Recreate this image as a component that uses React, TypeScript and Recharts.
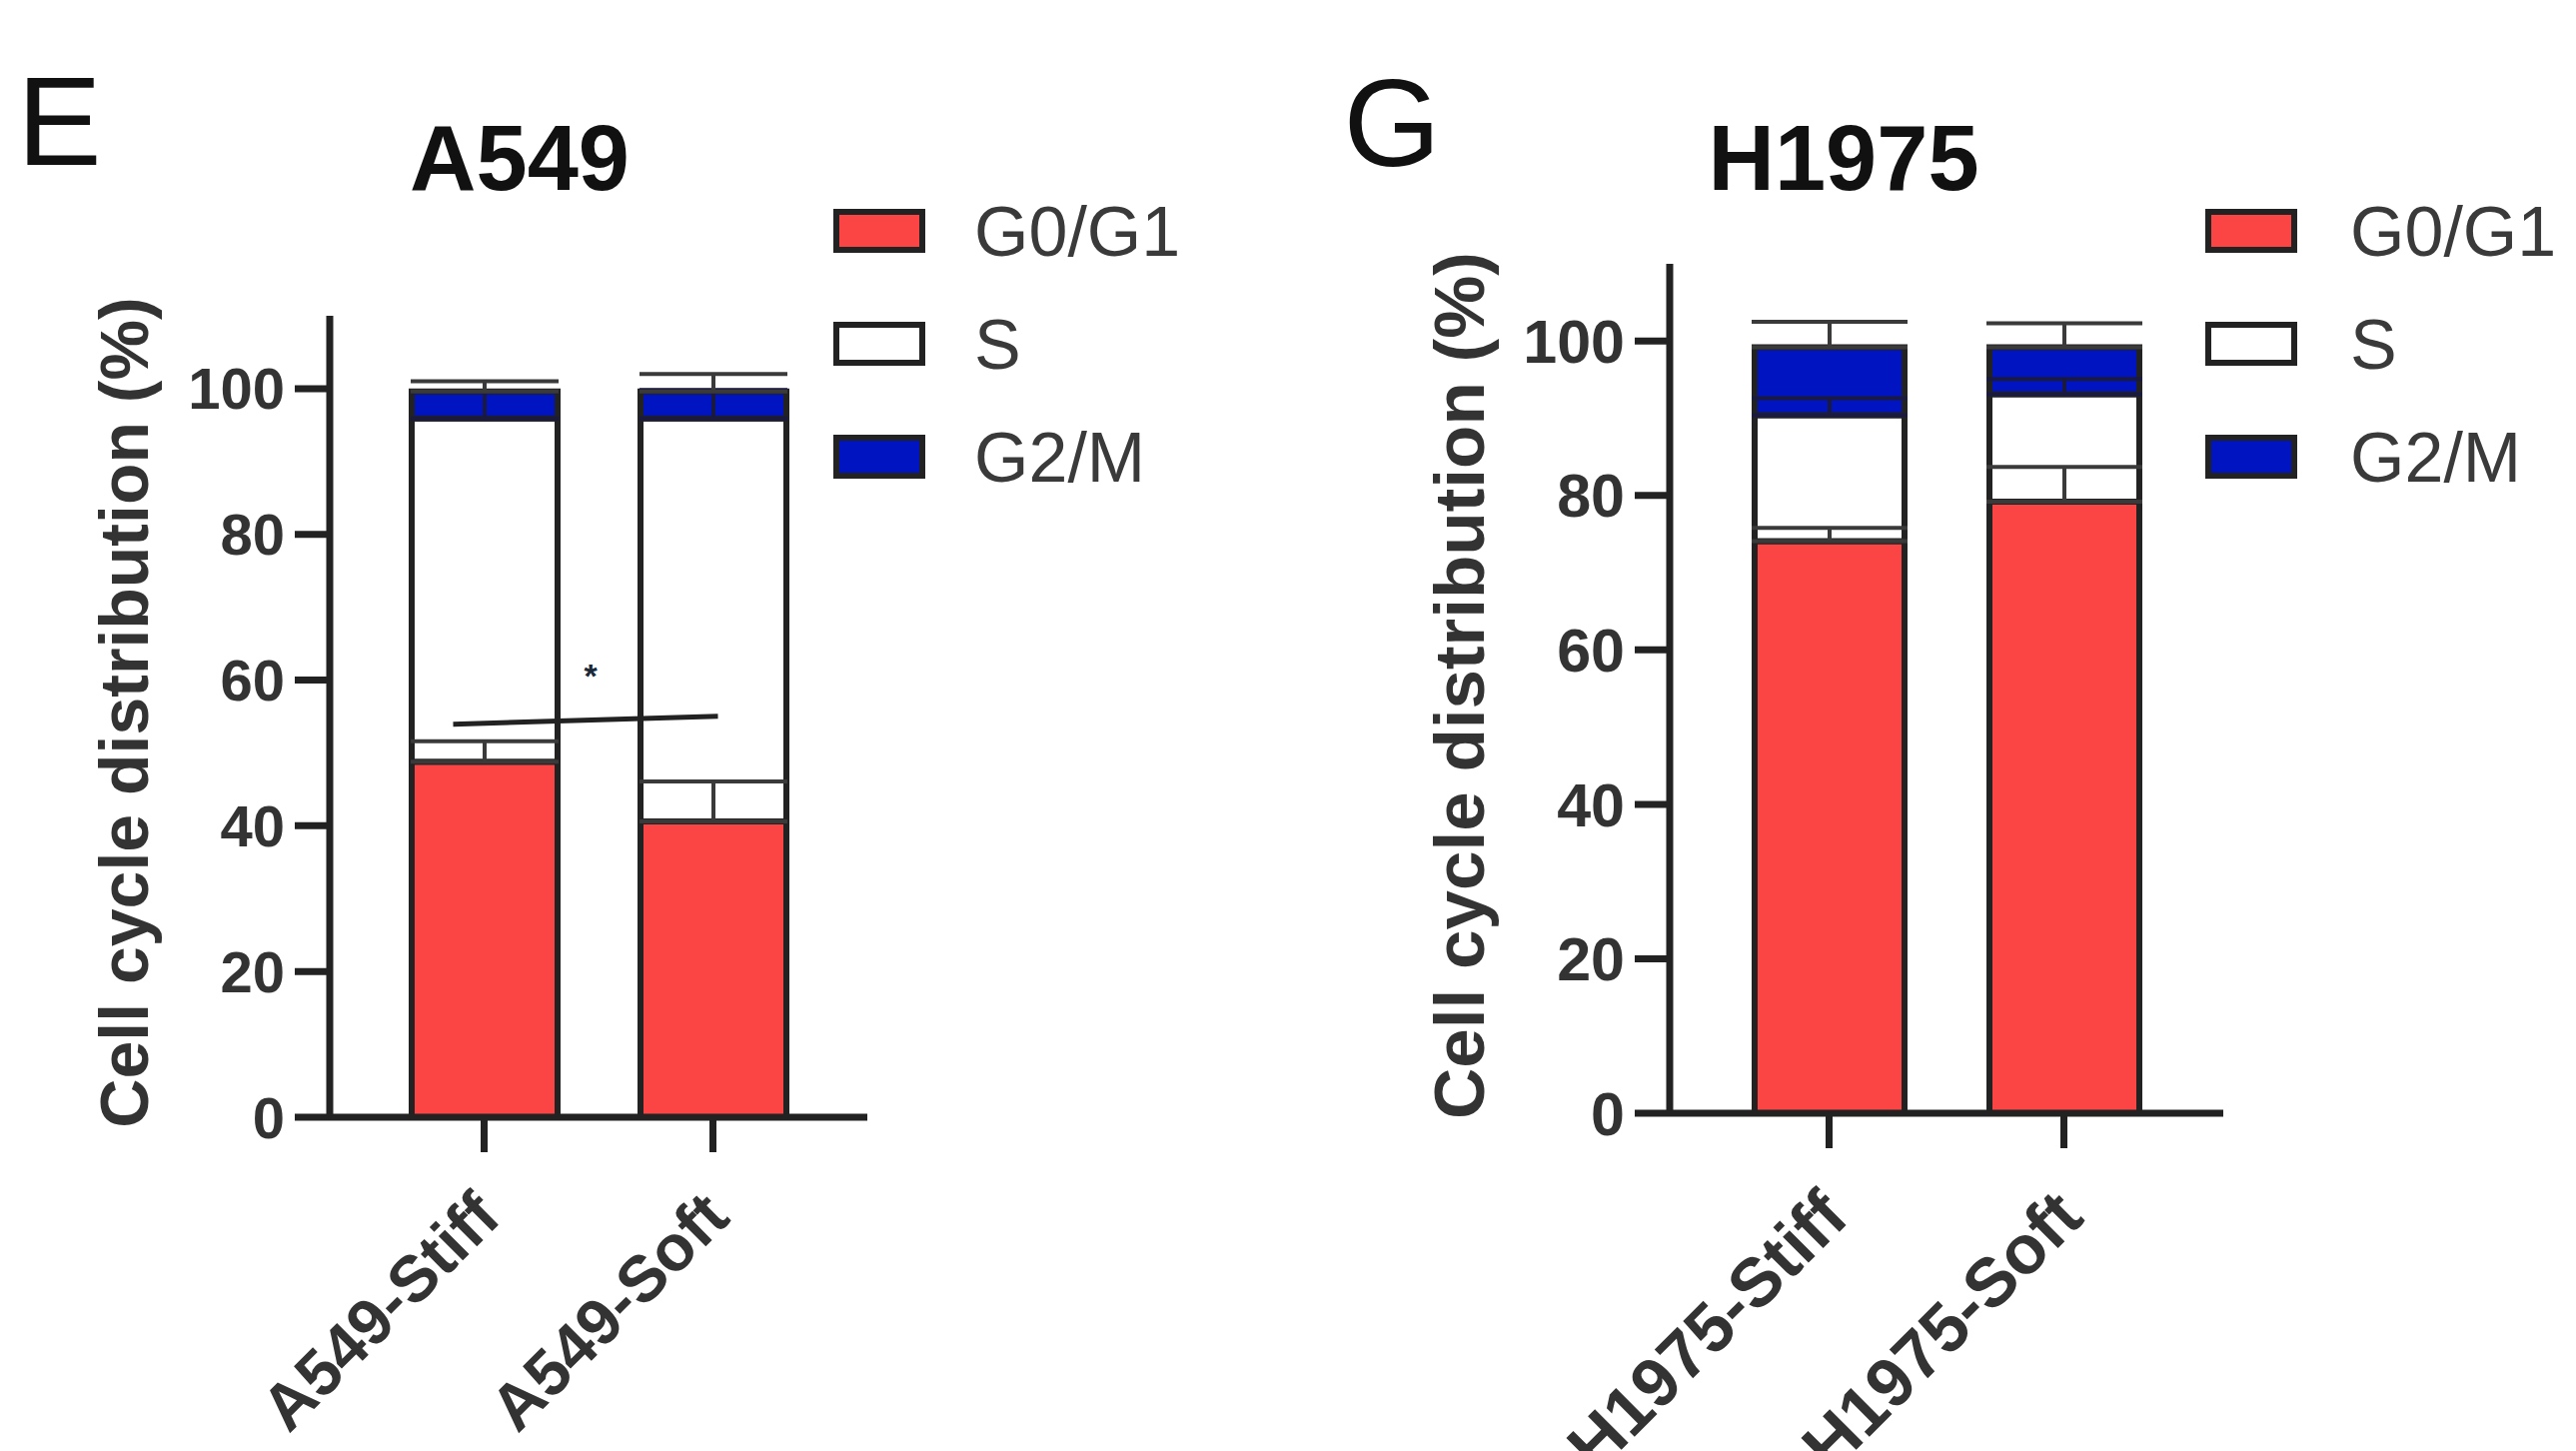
import React from 'react';
import { BarChart, Bar, XAxis, YAxis, ErrorBar, ReferenceLine } from 'recharts';

const FONT = '"Liberation Sans", Arial, Helvetica, sans-serif';
const RED = '#FB4444';
const BLUE = '#0014C2';
const EDGE = '#222222';
const INK = '#333333';

// A549 panel (E)
const a549Groups = ['A549-Stiff', 'A549-Soft'];
const a549G0G1 = [48.8, 40.6];
const a549G0G1Err = [2.8, 5.5];
const a549S = [47.1, 55.3];
const a549SErr = [3.6, 3.9];
const a549G2M = [3.7, 3.7];
const a549G2MErr = [1.4, 2.4];
const a549SigY = 54.5;

// H1975 panel (G)
const h1975Groups = ['H1975-Stiff', 'H1975-Soft'];
const h1975G0G1 = [74.1, 79.2];
const h1975G0G1Err = [1.7, 4.5];
const h1975S = [16.3, 13.9];
const h1975SErr = [2.2, 2.0];
const h1975G2M = [8.8, 6.1];
const h1975G2MErr = [3.3, 3.1];

const yTicks = [0, 20, 40, 60, 80, 100];
const phases = ['G0/G1', 'S', 'G2/M'];
const phaseColors = [RED, '#FFFFFF', BLUE];

const buildRows = (
  groups: string[],
  g1: number[], g1Err: number[],
  s: number[], sErr: number[],
  g2: number[], g2Err: number[],
) =>
  groups.map((name, i) => ({
    name,
    g1: g1[i],
    g1Err: [0, g1Err[i]],
    s: s[i],
    sErr: [0, sErr[i]],
    g2: g2[i],
    g2Err: [0, g2Err[i]],
  }));

const a549Rows = buildRows(a549Groups, a549G0G1, a549G0G1Err, a549S, a549SErr, a549G2M, a549G2MErr);
const h1975Rows = buildRows(h1975Groups, h1975G0G1, h1975G0G1Err, h1975S, h1975SErr, h1975G2M, h1975G2MErr);

const SlantTick = (props: any) => {
  const { x, y, payload, fs, dx, dy } = props;
  const tx = x + dx;
  const ty = y + dy;
  return (
    <text
      x={tx}
      y={ty}
      transform={`rotate(-45, ${tx}, ${ty})`}
      textAnchor="end"
      fontSize={fs}
      fontWeight={700}
      fill={INK}
      fontFamily={FONT}
    >
      {payload.value}
    </text>
  );
};

// significance bracket with its star, hung on the scale-computed segment
const SigShape = (props: any) => {
  const { x1, y1, x2, y2 } = props;
  if (x1 == null) return null;
  return (
    <g>
      <line x1={x1 - 31} y1={y1 + 4} x2={x2 + 5} y2={y2 - 4} stroke={EDGE} strokeWidth={5} />
      <text
        x={(x1 + x2) / 2 - 8}
        y={y1 - 33}
        textAnchor="middle"
        fontSize={34}
        fontWeight={700}
        fill="#1b2838"
        fontFamily={FONT}
      >
        *
      </text>
    </g>
  );
};

interface PanelProps {
  rows: any[];
  left: number;
  width: number;
  top: number;
  right: number;
  yAxisWidth: number;
  xAxisHeight: number;
  barSize: number;
  pad: number;
  tickFs: number;
  labelFs: number;
  tickLen: number;
  capW: number;
  labelDx: number;
  labelDy: number;
  sig?: number;
}

const Panel: React.FC<PanelProps> = (p) => (
  <div style={{ position: 'absolute', left: p.left, top: 0 }}>
    <BarChart
      width={p.width}
      height={1452}
      data={p.rows}
      margin={{ top: p.top, right: p.right, bottom: 0, left: 0 }}
      barSize={p.barSize}
    >
      <XAxis
        dataKey="name"
        height={p.xAxisHeight}
        padding={{ left: p.pad, right: p.pad }}
        axisLine={{ stroke: EDGE, strokeWidth: 7 }}
        tickLine={{ stroke: EDGE, strokeWidth: 7 }}
        tickSize={p.tickLen}
        tickMargin={0}
        interval={0}
        tick={(t: any) => <SlantTick {...t} fs={p.labelFs} dx={p.labelDx} dy={p.labelDy} />}
      />
      <YAxis
        width={p.yAxisWidth}
        domain={[0, 110]}
        ticks={yTicks}
        allowDataOverflow
        axisLine={{ stroke: EDGE, strokeWidth: 7 }}
        tickLine={{ stroke: EDGE, strokeWidth: 7 }}
        tickSize={p.tickLen}
        tickMargin={10}
        tick={{ fill: INK, fontSize: p.tickFs, fontWeight: 700, fontFamily: FONT }}
      />
      <Bar dataKey="g1" stackId="a" fill={RED} stroke={EDGE} strokeWidth={6} isAnimationActive={false}>
        <ErrorBar dataKey="g1Err" direction="y" width={p.capW} stroke="#3a3a3a" strokeWidth={4} />
      </Bar>
      <Bar dataKey="s" stackId="a" fill="#FFFFFF" stroke={EDGE} strokeWidth={6} isAnimationActive={false}>
        <ErrorBar dataKey="sErr" direction="y" width={p.capW} stroke="#1a1a40" strokeWidth={4} />
      </Bar>
      <Bar dataKey="g2" stackId="a" fill={BLUE} stroke={EDGE} strokeWidth={6} isAnimationActive={false}>
        <ErrorBar dataKey="g2Err" direction="y" width={p.capW} stroke="#3a3a3a" strokeWidth={4} />
      </Bar>
      {p.sig != null && (
        <ReferenceLine
          segment={[
            { x: p.rows[0].name, y: p.sig },
            { x: p.rows[1].name, y: p.sig },
          ]}
          shape={SigShape}
          ifOverflow="visible"
        />
      )}
    </BarChart>
  </div>
);

const Legend: React.FC<{ x: number; textX: number }> = ({ x, textX }) => (
  <g>
    {phases.map((name, i) => {
      const cy = 231 + i * 113;
      return (
        <g key={name}>
          <rect x={x + 3} y={cy - 19} width={86} height={38} fill={phaseColors[i]} stroke={EDGE} strokeWidth={6} />
          <text x={textX} y={cy + 25} fontSize={70} fill="#3a3a3a" fontFamily={FONT}>
            {name}
          </text>
        </g>
      );
    })}
  </g>
);

const App: React.FC = () => (
  <div
    style={{
      position: 'absolute',
      left: 0,
      top: 0,
      width: 2578,
      height: 1452,
      background: '#ffffff',
      overflow: 'hidden',
      fontFamily: FONT,
    }}
  >
    <Panel
      rows={a549Rows}
      left={0}
      width={1290}
      top={316}
      right={422}
      yAxisWidth={330}
      xAxisHeight={334}
      barSize={146}
      pad={40}
      tickFs={58}
      labelFs={65}
      tickLen={35}
      capW={74}
      labelDx={19}
      labelDy={68}
      sig={a549SigY}
    />
    <Panel
      rows={h1975Rows}
      left={1290}
      width={1288}
      top={264}
      right={353}
      yAxisWidth={381}
      xAxisHeight={338}
      barSize={150}
      pad={42}
      tickFs={61}
      labelFs={69}
      tickLen={35}
      capW={78}
      labelDx={22}
      labelDy={72}
    />
    <svg
      width={2578}
      height={1452}
      style={{ position: 'absolute', left: 0, top: 0, pointerEvents: 'none' }}
    >
      <text x={17} y={165} fontSize={127} fill="#111" fontFamily={FONT}>E</text>
      <text x={520} y={190} textAnchor="middle" fontSize={92} fontWeight={700} fill="#111" fontFamily={FONT}>
        A549
      </text>
      <text x={1393} y={166} textAnchor="middle" fontSize={125} fill="#111" fontFamily={FONT}>G</text>
      <text x={1845} y={190} textAnchor="middle" fontSize={92} fontWeight={700} fill="#111" fontFamily={FONT}>
        H1975
      </text>
      <text
        transform="translate(124, 713) rotate(-90)"
        textAnchor="middle"
        dominantBaseline="central"
        fontSize={68}
        fontWeight={700}
        fill={INK}
        fontFamily={FONT}
      >
        Cell cycle distribution (%)
      </text>
      <text
        transform="translate(1460, 686) rotate(-90)"
        textAnchor="middle"
        dominantBaseline="central"
        fontSize={71}
        fontWeight={700}
        fill={INK}
        fontFamily={FONT}
      >
        Cell cycle distribution (%)
      </text>
      <Legend x={834} textX={975} />
      <Legend x={2207} textX={2352} />
    </svg>
  </div>
);

export default App;
